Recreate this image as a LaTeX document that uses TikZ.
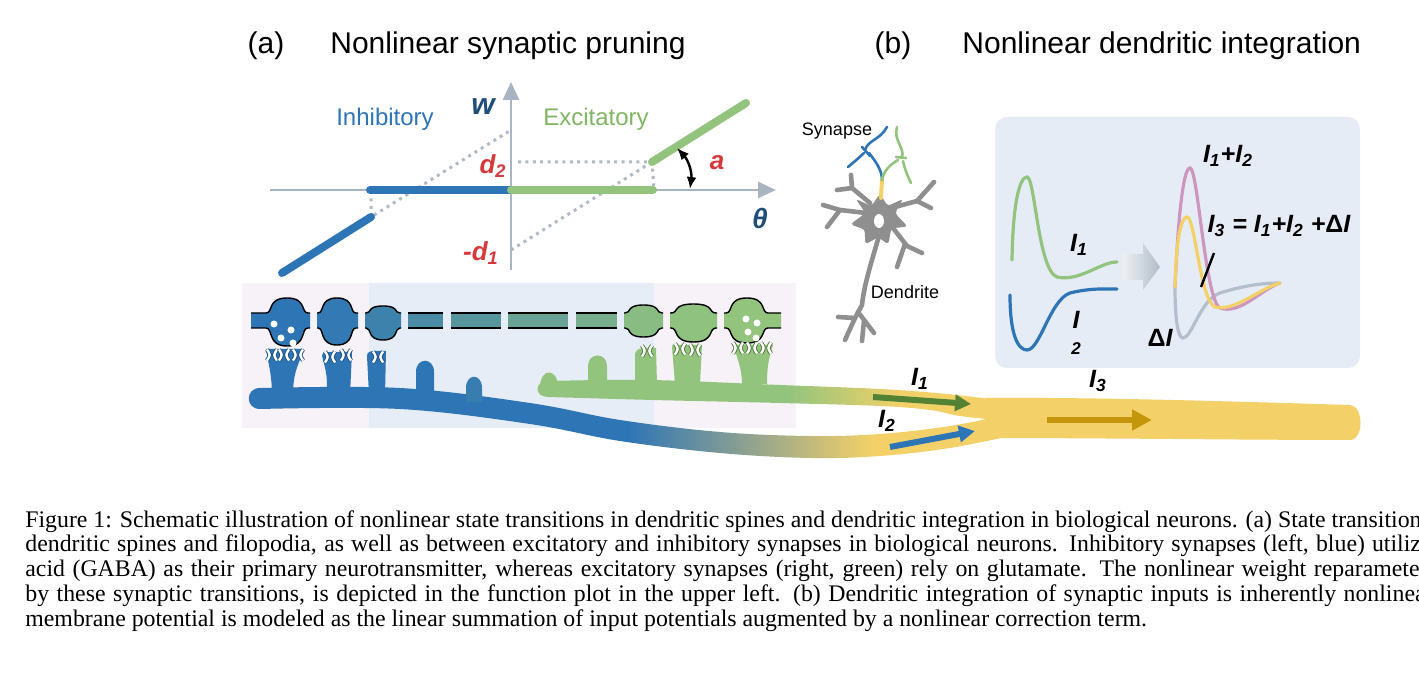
\documentclass[tikz,border=0pt]{standalone}
\usepackage{fontspec}
\setmainfont{Liberation Sans}
\newfontfamily\capfont{Liberation Serif}
\usetikzlibrary{arrows.meta}

\definecolor{blueC}{RGB}{46,117,182}
\definecolor{greenC}{RGB}{147,196,125}
\definecolor{yellowC}{RGB}{243,209,104}
\definecolor{axisC}{RGB}{168,180,194}
\definecolor{dotC}{RGB}{176,186,198}
\definecolor{redC}{RGB}{214,57,59}
\definecolor{labC}{RGB}{31,78,121}
\definecolor{excC}{RGB}{128,182,98}
\definecolor{pinkbg}{RGB}{246,242,248}
\definecolor{bluebg}{RGB}{231,237,247}
\definecolor{boxC}{RGB}{230,236,246}
\definecolor{recBlue}{RGB}{31,78,121}
\definecolor{recGreen}{RGB}{79,122,58}
\definecolor{neuC}{RGB}{143,143,143}
\definecolor{arrGreen}{RGB}{84,130,53}
\definecolor{goldC}{RGB}{196,150,12}
\definecolor{pinkC}{RGB}{205,150,190}
\definecolor{grayC}{RGB}{180,190,204}

\pgfdeclarehorizontalshading{blueyellow}{100bp}{color(0bp)=(blueC); color(50bp)=(blueC); color(66bp)=(yellowC); color(100bp)=(yellowC)}
\pgfdeclarehorizontalshading{greenyellow}{100bp}{color(0bp)=(greenC); color(52bp)=(greenC); color(64bp)=(yellowC); color(100bp)=(yellowC)}
\pgfdeclarehorizontalshading{grayarrow}{100bp}{color(0bp)=(white); color(25bp)=(white!80!axisC); color(75bp)=(axisC!90!white); color(100bp)=(axisC)}

\newcommand{\bouton}[7]{%
  \pgfmathsetmacro{\bxh}{(#3-#2)/2}%
  \pgfmathsetmacro{\bxm}{#2+\bxh}%
  \pgfmathsetmacro{\bxa}{#2+0.35*\bxh}%
  \pgfmathsetmacro{\bxb}{#2+0.05*\bxh}%
  \pgfmathsetmacro{\bxc}{#3-0.05*\bxh}%
  \pgfmathsetmacro{\bxd}{#3-0.35*\bxh}%
  \fill[#7] (#1,313) -- (#2,313) .. controls (\bxa,313) and (\bxb,#5) .. (\bxm,#5) .. controls (\bxc,#5) and (\bxd,313) .. (#3,313) -- (#4,313) -- (#4,328) -- (#3,328) .. controls (\bxd,328) and (\bxc,#6) .. (\bxm,#6) .. controls (\bxb,#6) and (\bxa,328) .. (#2,328) -- (#1,328) -- cycle;
  \draw[edge] (#1,313) -- (#2,313) .. controls (\bxa,313) and (\bxb,#5) .. (\bxm,#5) .. controls (\bxc,#5) and (\bxd,313) .. (#3,313) -- (#4,313);
  \draw[edge] (#1,328) -- (#2,328) .. controls (\bxa,328) and (\bxb,#6) .. (\bxm,#6) .. controls (\bxc,#6) and (\bxd,328) .. (#3,328) -- (#4,328);
}
\newcommand{\axseg}[3]{%
  \fill[#3] (#1,313) rectangle (#2,328);
  \draw[edge] (#1,313) -- (#2,313) (#1,328) -- (#2,328);
}
\newcommand{\recep}[3]{%
  \draw[recept=#3] (#1-5,#2-5.5) .. controls (#1-1.5,#2) .. (#1-5,#2+5.5) (#1+5,#2-5.5) .. controls (#1+1.5,#2) .. (#1+5,#2+5.5);
}

\begin{document}
\begin{tikzpicture}[x=0.5pt, y=-0.5pt,
  ttl/.style={font=\fontsize{15}{18}\selectfont},
  lbl/.style={font=\fontsize{12.5}{14}\selectfont\bfseries\itshape},
  plbl/.style={font=\fontsize{13}{15}\selectfont\bfseries\itshape},
  small/.style={font=\fontsize{9}{11}\selectfont},
  captxt/.style={anchor=base west, inner sep=0pt, font=\capfont\fontsize{11.9}{14}\selectfont},
  axisln/.style={draw=axisC, line width=1.4pt, -{Triangle[width=8pt,length=9pt]}},
  seg/.style={line width=4pt, line cap=round},
  dots/.style={draw=dotC, line width=1.5pt, dash pattern=on 1.5pt off 2.2pt},
  edge/.style={draw=black, line width=0.7pt},
  recept/.style={draw=#1, double=white, double distance=1.2pt, line width=0.45pt},
  flow/.style={line width=3pt, -{Triangle[width=8pt,length=8pt]}},
  dend/.style={draw=neuC, line width=2.3pt, line cap=round, line join=round},
  axon/.style={line width=1.3pt, line cap=round},
  curve/.style={line width=1.6pt, line cap=round}
]
\useasboundingbox (0,0) rectangle (1419,678);

\node[ttl] (ta) at (266,46) {(a)};
\node[ttl, anchor=west, inner sep=0pt] (tatext) at (330,46) {Nonlinear synaptic pruning};
\node[ttl] (tb) at (893,46) {(b)};
\node[ttl, anchor=west, inner sep=0pt] (tbtext) at (962,46) {Nonlinear dendritic integration};

\coordinate (O) at (511,190);
\draw[dots] (371,191) -- (371,217) -- (511,130);
\draw[dots] (511,250) -- (652,162);
\draw[dots] (518,162) -- (652,162) -- (654,190);
\draw[axisln] (270,190) -- (776,190);
\draw[axisln] (511,270) -- (511,82);
\draw[blueC, seg] (370,190) -- (O);
\draw[blueC, seg] (282,273) -- (371,217);
\draw[greenC, seg] (O) -- (653,190);
\draw[greenC, seg] (652,162) -- (746,103);
\draw[line width=1.2pt, {Latex[length=6pt,width=5pt]}-{Latex[length=6pt,width=5pt]}] (677,148) to[bend left=25] (690,189);
\node[plbl, text=labC, font=\fontsize{15}{17}\selectfont\bfseries\itshape] (wlbl) at (483,107) {w};
\node[plbl, text=labC, font=\fontsize{14}{16}\selectfont\bfseries\itshape] (thlbl) at (760,218) {θ};
\node[plbl, text=redC] (d2lbl) at (493,166) {d\textsubscript{2}};
\node[plbl, text=redC] (d1lbl) at (481,253) {-d\textsubscript{1}};
\node[plbl, text=redC] (albl) at (717,163) {a};
\node[font=\fontsize{12}{14}\selectfont, text=blueC] (inh) at (385,119) {Inhibitory};
\node[font=\fontsize{12}{14}\selectfont, text=excC] (exc) at (596,119) {Excitatory};

\fill[pinkbg] (242,283) rectangle (796,428);
\fill[bluebg] (369,283) rectangle (654,428);

\bouton{251}{266}{308}{310}{298}{346}{blueC}
\bouton{317}{318}{356}{358}{298}{345}{greenC!5!blueC}
\bouton{365}{366}{400}{401}{306}{340}{greenC!15!blueC}
\axseg{408}{443}{greenC!28!blueC}
\axseg{451}{501}{greenC!42!blueC}
\axseg{508}{568}{greenC!58!blueC}
\axseg{576}{617}{greenC!72!blueC}
\bouton{624}{625}{662}{663}{305}{337}{greenC!90!blueC}
\bouton{670}{671}{716}{717}{304}{342}{greenC!96!blueC}
\bouton{724}{726}{768}{781}{298}{343}{greenC}
\foreach \px/\py in {274/324,291/330,281/338,293/343,746/319,757/323,748/332,756/338}
  \fill[white] (\px,\py) circle [radius=3.5];

\shade[shading=blueyellow] plot[smooth, tension=0.6] coordinates {(260,388) (400,388) (530,403) (620,420) (720,432) (810,436) (880,434) (950,426) (1010,414)} -- plot[smooth, tension=0.6] coordinates {(1010,436) (950,448) (880,456) (810,458) (720,453) (620,441) (530,424) (400,409) (260,409)} .. controls (245,409) and (245,388) .. (260,388) -- cycle;
\fill[blueC] (266,349) -- (304,349) .. controls (300,362) and (293,370) .. (293,395) -- (272,395) .. controls (272,375) and (268,362) .. (266,349) -- cycle;
\fill[blueC] (322,356) .. controls (322,352) and (326,352) .. (330,352) -- (352,352) -- (350,395) -- (327,395) .. controls (327,375) .. (322,356) -- cycle;
\fill[blueC] (367,356) .. controls (367,352) and (370,351) .. (375,351) -- (386,351) -- (385,395) -- (369,395) -- cycle;
\fill[blueC] (416,398) -- (416,372) .. controls (416,357) and (434,357) .. (434,372) -- (434,398) -- cycle;
\fill[blueC!90!greenC] (466,402) -- (466,388) .. controls (466,373) and (482,373) .. (482,388) -- (482,402) -- cycle;

\shade[shading=greenyellow] plot[smooth, tension=0.6] coordinates {(548,381) (650,380) (780,385) (880,389) (947,394) (1005,401)} -- plot[smooth, tension=0.6] coordinates {(1005,421) (960,416) (930,410) (880,406) (780,403) (653,400) (548,397)} .. controls (534,397) and (534,381) .. (548,381) -- cycle;
\fill[greenC] (540,386) .. controls (541,368) and (557,368) .. (558,386) -- cycle;
\fill[greenC] (588,384) -- (588,366) .. controls (588,352) and (607,352) .. (607,366) -- (607,384) -- cycle;
\fill[greenC] (635,384) -- (635,356) .. controls (635,349) and (640,348) .. (646,348) -- (656,348) -- (657,384) -- cycle;
\fill[greenC] (672,347) .. controls (672,345) .. (675,345) -- (702,345) -- (700,384) -- (675,384) -- cycle;
\fill[greenC] (733,345) -- (773,345) .. controls (768,360) and (767,370) .. (767,384) -- (742,384) .. controls (742,370) and (738,360) .. (733,345) -- cycle;

\recep{272}{355}{recBlue}
\recep{284}{355}{recBlue}
\recep{298}{355}{recBlue}
\recep{330}{357}{recBlue}
\recep{346}{355}{recBlue}
\recep{378}{357}{recBlue}
\recep{647}{351}{recGreen}
\recep{680}{349}{recGreen}
\recep{695}{350}{recGreen}
\recep{738}{348}{recGreen}
\recep{752}{348}{recGreen}
\recep{766}{348}{recGreen}

\fill[yellowC] (985,398) .. controls (1100,397) and (1250,402) .. (1350,405) .. controls (1364,406) and (1364,440) .. (1350,440) .. controls (1250,440) and (1100,438) .. (985,438) -- cycle;
\draw[flow, arrGreen] (873,397) -- (971,404);
\draw[flow, blueC] (890,447) -- (975,431);
\draw[flow, goldC, -{Triangle[width=10pt,length=10pt]}] (1047,420) -- (1152,420);
\node[lbl] (i1) at (920,379) {I\textsubscript{1}};
\node[lbl] (i2) at (887,421) {I\textsubscript{2}};
\node[lbl] (i3) at (1098,381) {I\textsubscript{3}};

\draw[dend] (870,203) -- (852,188) -- (837,190);
\draw[dend] (852,188) -- (851,175);
\draw[dend] (866,213) -- (840,210) -- (823,205);
\draw[dend] (840,210) -- (827,227);
\draw[dend] (895,207) -- (917,201) -- (934,182);
\draw[dend] (917,201) -- (931,208);
\draw[dend] (893,228) -- (907,246) -- (922,253);
\draw[dend] (905,244) -- (897,267);
\draw[dend] (879,236) .. controls (872,260) and (864,285) .. (862,305) -- (855,318);
\draw[dend] (855,318) -- (838,317);
\draw[dend] (855,318) -- (845,340);
\draw[dend] (858,312) -- (874,333);
\draw[dend] (864,321) -- (862,341);
\fill[neuC] plot[smooth cycle] coordinates {(880,195) (888,205) (902,200) (896,213) (906,226) (892,229) (888,243) (878,238) (866,243) (864,230) (852,224) (864,213) (857,200) (871,205)};
\fill[white] (879,221) ellipse [x radius=5, y radius=7];
\draw[axon, yellowC, line width=2pt] (881,198) -- (882,180);
\draw[axon, blueC] (882,180) .. controls (882,170) and (876,162) .. (869,153);
\draw[axon, blueC] (887,127) .. controls (880,140) and (868,140) .. (865,150);
\draw[axon, blueC] (848,167) .. controls (854,162) and (860,157) .. (864,153);
\draw[axon, blueC] (862,147) -- (870,156);
\draw[axon, greenC] (882,180) .. controls (884,170) and (890,165) .. (898,160);
\draw[axon, greenC] (897,127) .. controls (893,140) and (905,148) .. (902,157);
\draw[axon, greenC] (903,161) .. controls (905,170) and (908,177) .. (911,183);
\draw[axon, greenC] (896,157) -- (906,158);
\node[small] (syn) at (837,131) {Synapse};
\node[small] (den) at (905,292) {Dendrite};

\fill[boxC, rounded corners=6pt] (995,117) rectangle (1360,368);
\draw[curve, greenC] (1012,260) .. controls (1013,200) and (1020,177) .. (1027,177) .. controls (1035,177) and (1038,270) .. (1057,277) .. controls (1080,282) and (1100,262) .. (1117,262);
\draw[curve, blueC] (1010,295) .. controls (1010,335) and (1018,350) .. (1027,350) .. controls (1040,350) and (1050,300) .. (1070,293) .. controls (1090,288) and (1105,289) .. (1117,289);
\shade[shading=grayarrow] (1123,254) -- (1143,254) -- (1143,243) -- (1160,267) -- (1143,290) -- (1143,280) -- (1123,280) -- cycle;
\draw[curve, grayC] (1175,287) .. controls (1175,320) and (1178,338) .. (1183,338) .. controls (1192,338) and (1200,300) .. (1220,293) .. controls (1245,285) and (1265,283) .. (1280,283);
\draw[curve, pinkC] (1175,287) .. controls (1178,220) and (1183,168) .. (1190,168) .. controls (1198,168) and (1205,300) .. (1220,308) .. controls (1240,315) and (1260,290) .. (1280,283);
\draw[curve, yellowC] (1175,287) .. controls (1176,240) and (1181,217) .. (1187,217) .. controls (1195,217) and (1200,300) .. (1215,307) .. controls (1235,312) and (1260,288) .. (1280,283);
\node[lbl] (lI1) at (1079,245) {I\textsubscript{1}};
\node[lbl, align=center] (lI2) at (1076,333) {I\\[-1pt]{\fontsize{8.5}{9}\selectfont 2}};
\node[lbl] (lsum) at (1228,156) {I\textsubscript{1}+I\textsubscript{2}};
\node[lbl] (lI3) at (1279,226) {I\textsubscript{3} = I\textsubscript{1}+I\textsubscript{2} +{\upshape Δ}I};
\node[lbl] (ldI) at (1160,338) {{\upshape Δ}I};
\coordinate (ptrA) at (1214,253);
\coordinate (ptrB) at (1201,287);
\draw[line width=1.2pt] (ptrA) -- (ptrB);

\begin{scope}
\clip (0,0) rectangle (1419,678);
\node[captxt] (cap1) at (25,527) {Figure 1: Schematic illustration of nonlinear state transitions in dendritic spines and dendritic integration in biological neurons. (a) State transitions};
\node[captxt] (cap2) at (25,552) {\makebox[703pt][s]{dendritic spines and filopodia, as well as between excitatory and inhibitory synapses in biological neurons. Inhibitory synapses (left, blue) utilize}};
\node[captxt] (cap3) at (25,576) {\makebox[701pt][s]{acid (GABA) as their primary neurotransmitter, whereas excitatory synapses (right, green) rely on glutamate. The nonlinear weight reparameter}};
\node[captxt] (cap4) at (25,601) {\makebox[704pt][s]{by these synaptic transitions, is depicted in the function plot in the upper left. (b) Dendritic integration of synaptic inputs is inherently nonlinear}};
\node[captxt] (cap5) at (25,626) {membrane potential is modeled as the linear summation of input potentials augmented by a nonlinear correction term.};
\end{scope}
\end{tikzpicture}
\end{document}
